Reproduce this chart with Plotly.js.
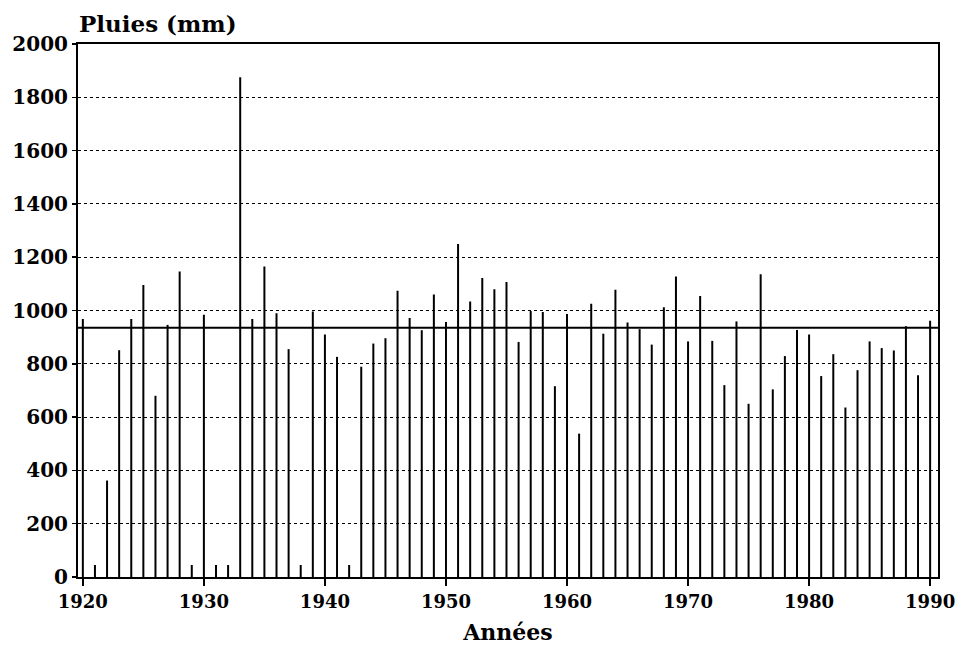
<!DOCTYPE html>
<html>
<head>
<meta charset="utf-8">
<script src="https://cdn.plot.ly/plotly-3.0.1.min.js"></script>
<style>
  html, body { margin: 0; padding: 0; background: #fff; }
  #chart { width: 962px; height: 657px; }
</style>
</head>
<body>
<div id="chart"></div>
<script>
// Annual rainfall (mm), 1920-1990
const years = [
  1920, 1921, 1922, 1923, 1924, 1925, 1926, 1927, 1928, 1929,
  1930, 1931, 1932, 1933, 1934, 1935, 1936, 1937, 1938, 1939,
  1940, 1941, 1942, 1943, 1944, 1945, 1946, 1947, 1948, 1949,
  1950, 1951, 1952, 1953, 1954, 1955, 1956, 1957, 1958, 1959,
  1960, 1961, 1962, 1963, 1964, 1965, 1966, 1967, 1968, 1969,
  1970, 1971, 1972, 1973, 1974, 1975, 1976, 1977, 1978, 1979,
  1980, 1981, 1982, 1983, 1984, 1985, 1986, 1987, 1988, 1989,
  1990
];
const rainfall = [
  968, 45, 362, 851, 968, 1096, 680, 946, 1146, 45,
  984, 45, 45, 1875, 968, 1165, 990, 855, 45, 996,
  910, 826, 45, 789, 876, 896, 1074, 972, 926, 1060,
  957, 1250, 1034, 1122, 1080, 1107, 882, 998, 994, 716,
  987, 538, 1025, 913, 1078, 955, 930, 872, 1012, 1128,
  884, 1054, 886, 720, 959, 650, 1136, 704, 829, 927,
  910, 754, 836, 636, 776, 884, 859, 850, 941, 757,
  962
];
const meanRain = 935;
const meanSpan = [1919.4, 1990.75];
const xTicks = [1920, 1930, 1940, 1950, 1960, 1970, 1980, 1990];
const yTicks = [0, 200, 400, 600, 800, 1000, 1200, 1400, 1600, 1800, 2000];

const FONT = 'DejaVu Serif, serif';

// Vertical needle segments built from the data arrays
const stemX = [];
const stemY = [];
years.forEach(function (yr, i) {
  stemX.push(yr, yr, null);
  stemY.push(0, rainfall[i], null);
});

const traces = [
  {
    type: 'scatter',
    mode: 'lines',
    x: stemX,
    y: stemY,
    line: { color: '#000', width: 2 },
    connectgaps: false,
    hoverinfo: 'x+y',
    showlegend: false
  },
  {
    type: 'scatter',
    mode: 'lines',
    x: meanSpan,
    y: [meanRain, meanRain],
    line: { color: '#000', width: 2 },
    cliponaxis: false,
    hoverinfo: 'y',
    showlegend: false
  }
];

const layout = {
  width: 962,
  height: 657,
  margin: { l: 78, r: 24, t: 44, b: 80 },
  paper_bgcolor: '#fff',
  plot_bgcolor: '#fff',
  showlegend: false,
  title: {
    text: '<b>Pluies (mm)</b>',
    font: { family: FONT, size: 23, color: '#000' },
    x: 79 / 962, xanchor: 'left', xref: 'container',
    y: 1 - 24 / 657, yanchor: 'middle', yref: 'container'
  },
  xaxis: {
    range: [1919.6, 1990.65],
    tickmode: 'array',
    tickvals: xTicks,
    ticktext: xTicks.map(String),
    ticks: 'outside',
    ticklen: 7,
    tickwidth: 1.5,
    tickcolor: '#000',
    tickfont: { family: FONT, size: 18, color: '#000', weight: 'bold' },
    showgrid: false,
    zeroline: false,
    showline: true,
    linecolor: '#000',
    linewidth: 2,
    mirror: true,
    title: {
      text: '<b>Années</b>',
      font: { family: FONT, size: 22, color: '#000' },
      standoff: 14
    }
  },
  yaxis: {
    range: [0, 2000],
    tickmode: 'array',
    tickvals: yTicks,
    ticktext: yTicks.map(String),
    ticks: 'outside',
    ticklen: 4,
    tickwidth: 1.5,
    tickcolor: '#000',
    tickfont: { family: FONT, size: 20, color: '#000', weight: 'bold' },
    showgrid: true,
    gridcolor: '#000',
    gridwidth: 1,
    griddash: 'dot',
    zeroline: false,
    showline: true,
    linecolor: '#000',
    linewidth: 2,
    mirror: true
  }
};

Plotly.newPlot('chart', traces, layout, { displayModeBar: false, staticPlot: true });
</script>
</body>
</html>
